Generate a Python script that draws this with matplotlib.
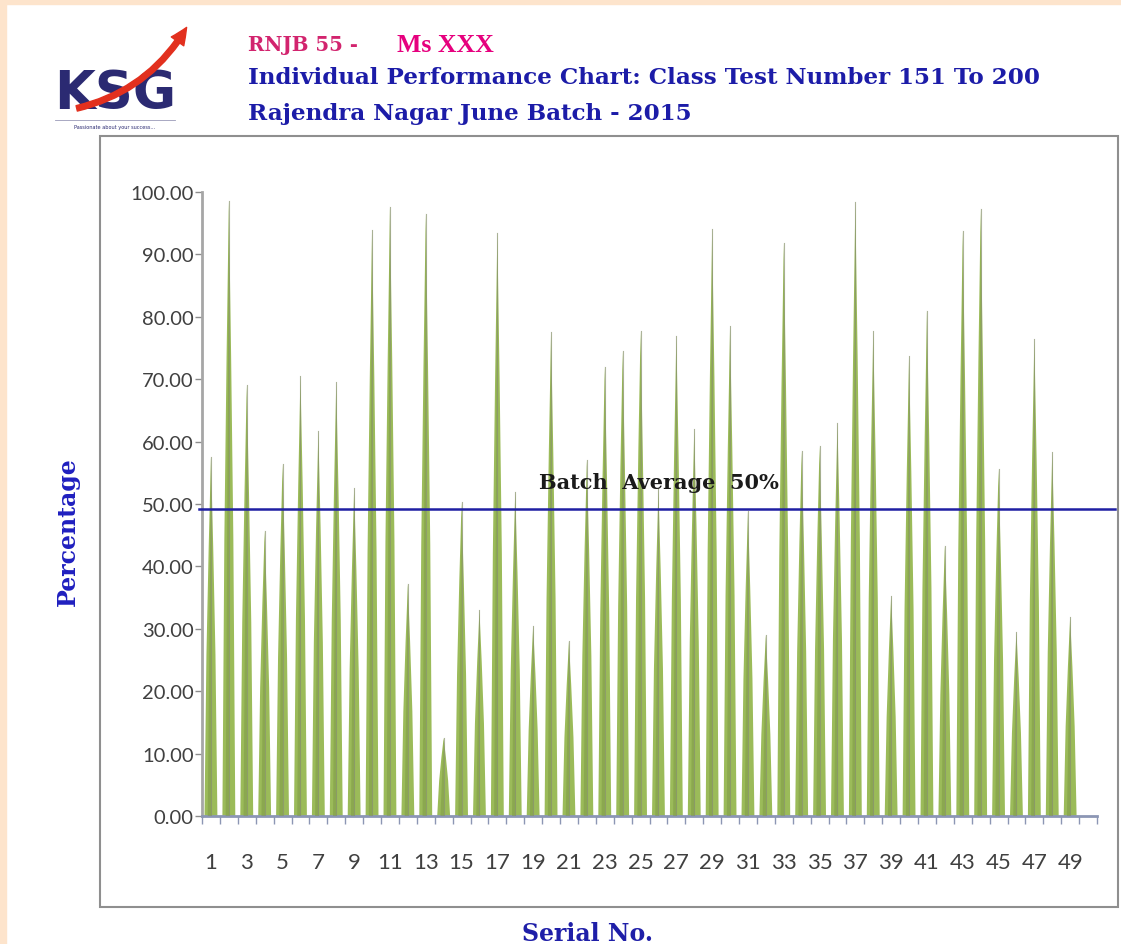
import matplotlib
matplotlib.use("Agg")
import matplotlib.pyplot as plt
from matplotlib.patches import Rectangle, FancyArrowPatch

# percentage scored in each class test (serial no. 1..49)
serial = list(range(1, 50))
scores = [57.5, 98.5, 69.0, 45.7, 56.4, 70.5, 61.7, 69.5, 52.5, 93.9,
          97.6, 37.2, 96.5, 12.5, 50.3, 33.0, 93.5, 52.0, 30.5, 77.5,
          28.0, 57.0, 72.0, 74.5, 77.7, 52.5, 77.0, 62.0, 94.0, 78.5,
          48.8, 29.0, 91.8, 58.5, 59.3, 63.0, 98.4, 77.7, 35.3, 73.7,
          81.0, 43.3, 93.8, 97.3, 55.6, 29.5, 76.4, 58.3, 31.9]
batch_average = 49.2
y_ticks = [0, 10, 20, 30, 40, 50, 60, 70, 80, 90, 100]
x_labels = list(range(1, 50, 2))

W, H = 1121, 945
fig = plt.figure(figsize=(W / 100, H / 100), dpi=100)
fig.patch.set_facecolor("white")


def fx(px):
    return px / W


def fy(py):
    return 1 - py / H


# thin peach frame on top / left
fig.patches.append(Rectangle((0, fy(5)), 1, 5 / H, transform=fig.transFigure,
                             color="#fde4cc", zorder=0))
fig.patches.append(Rectangle((0, 0), 6 / W, 1, transform=fig.transFigure,
                             color="#fde4cc", zorder=0))
# chart border
fig.patches.append(Rectangle((fx(100), fy(908)), fx(1118) - fx(100), fy(137) - fy(908),
                             transform=fig.transFigure, fill=False,
                             edgecolor="#8f8f8f", lw=1.5, zorder=1))

ax = fig.add_axes([fx(202), fy(817), fx(1097) - fx(202), fy(193) - fy(817)])
ax.set_xlim(0.5, 50.5)
ax.set_ylim(0, 100)
ax.patch.set_alpha(0)

# cone-like bars: full width at the base, tapering to a thin tip
hw = 0.36
fracs = [0.0, 0.45, 0.75, 1.0]
widths = [1.0, 0.7, 0.35, 0.0]
for x, v in zip(serial, scores):
    xs = [x - hw * w for w in widths] + [x + hw * w for w in widths[::-1]]
    ys = [v * f for f in fracs] + [v * f for f in fracs[::-1]]
    ax.fill(xs, ys, color="#9bbb59", lw=0, zorder=2)
    ax.fill([x - hw * 0.5, x, x + hw * 0.1], [0, v, 0], color="#7f9a47",
            lw=0, alpha=0.55, zorder=3)
    ax.plot([x, x], [0, v], color="#8a9470", lw=0.8, alpha=0.7, zorder=3)

# batch average line
ax.plot([0.35, 51.5], [batch_average, batch_average], color="#1f1fa3", lw=1.8,
        clip_on=False, zorder=4)
ax.text(19.3, 53.6, "Batch  Average  50%", fontsize=15, fontweight="bold",
        family="DejaVu Serif", color="#1a1a1a", va="center", ha="left", zorder=5)

for s in ["top", "right"]:
    ax.spines[s].set_visible(False)
ax.spines["left"].set_color("#a6a6a6")
ax.spines["left"].set_linewidth(2)
ax.spines["bottom"].set_color("#8c96b4")
ax.spines["bottom"].set_linewidth(2)

ax.set_yticks(y_ticks)
ax.set_yticklabels([f"{t:.2f}" for t in y_ticks], fontsize=14.5,
                   family="Lato", color="#404040")
ax.tick_params(axis="y", length=5, width=1, color="#8c8c8c", pad=1)

ax.set_xticks(x_labels)
ax.set_xticklabels([str(v) for v in x_labels], fontsize=16, family="Lato",
                   color="#404040")
ax.set_xticks([i + 0.5 for i in range(0, 51)], minor=True)
ax.tick_params(axis="x", which="major", length=0, pad=26)
ax.tick_params(axis="x", which="minor", length=6, width=1, color="#8c96b4")

# axis titles
fig.text(fx(68), fy(532), "Percentage", rotation=90, fontsize=17,
         fontweight="bold", family="DejaVu Serif", color="#1f1fbf",
         ha="center", va="center")
fig.text(fx(587), fy(934), "Serial No.", fontsize=17, fontweight="bold",
         family="DejaVu Serif", color="#1f1fa8", ha="center", va="center")

# header
fig.text(fx(248), fy(45), "RNJB 55 -", fontsize=14.2, fontweight="bold",
         family="DejaVu Serif", color="#d2246e", va="center")
fig.text(fx(397), fy(45), "Ms XXX", fontsize=18.5, fontweight="bold",
         family="Liberation Serif", color="#e6007e", va="center")
fig.text(fx(248), fy(78), "Individual Performance Chart: Class Test Number 151 To 200",
         fontsize=16.6, fontweight="bold", family="DejaVu Serif",
         color="#1c1ca8", va="center")
fig.text(fx(248), fy(114), "Rajendra Nagar June Batch - 2015", fontsize=16.6,
         fontweight="bold", family="DejaVu Serif", color="#1c1ca8", va="center")

# KSG logo
fig.text(fx(115), fy(94), "KSG", fontsize=38, fontweight="bold",
         family="DejaVu Sans", color="#2b2a72", ha="center", va="center")
fig.text(fx(115), fy(127), "Passionate about your success...", fontsize=3.6,
         family="DejaVu Sans", color="#2b2a72", ha="center", va="center")
fig.lines.append(plt.Line2D([fx(55), fx(175)], [fy(121), fy(121)],
                            transform=fig.transFigure, color="#9a9ab8", lw=0.6))
fig.patches.append(FancyArrowPatch((fx(74), fy(110)), (fx(188), fy(26)),
                                   transform=fig.transFigure,
                                   connectionstyle="arc3,rad=0.22",
                                   arrowstyle="simple,head_width=11,head_length=12,tail_width=4",
                                   color="#e2301e", zorder=5))

fig.savefig("out.png", dpi=100)
